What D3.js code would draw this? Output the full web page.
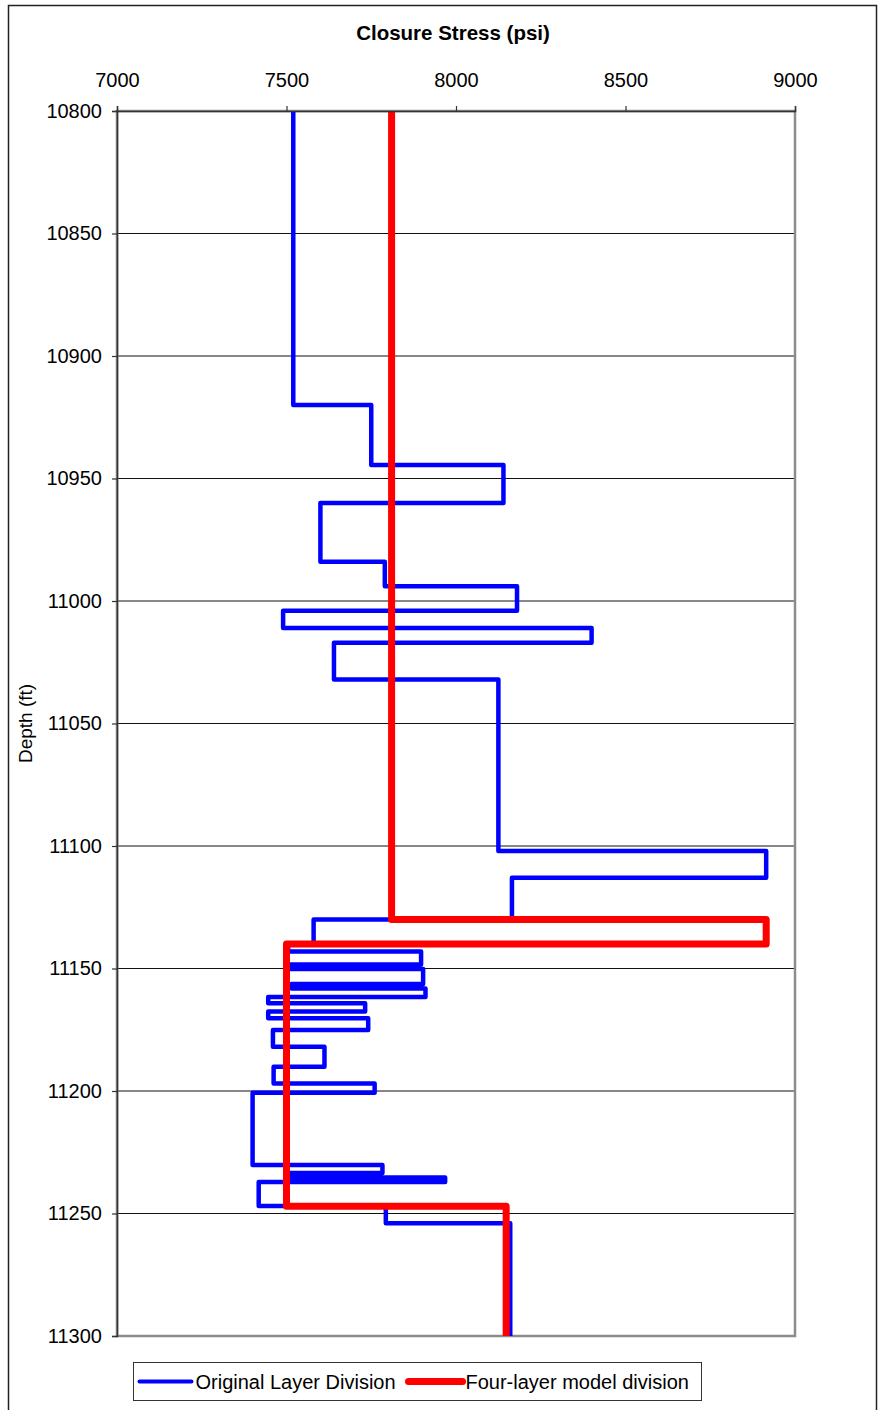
<!DOCTYPE html>
<html>
<head>
<meta charset="utf-8">
<script src="https://cdn.jsdelivr.net/npm/d3@7/dist/d3.min.js"></script>
<style>
  body { margin: 0; background: #fff; }
  svg { display: block; font-family: "Liberation Sans", Arial, sans-serif; }
</style>
</head>
<body>
<div id="chart"></div>
<script>
// layer boundaries (ft) and closure stress per layer (psi)
var blueDepths = [10800, 10920, 10944.5, 10960, 10984, 10994, 11004, 11011, 11017, 11032,
  11102, 11113, 11130, 11140, 11143.1, 11148.4, 11150.2, 11156.3, 11158.2, 11161.6,
  11164.2, 11167.6, 11170.3, 11175.1, 11181.9, 11190.1, 11196.9, 11200.7, 11230.2,
  11233.5, 11235.3, 11237.1, 11246.9, 11254, 11300]
var blueStress = [7520, 7750, 8140, 7600, 7790, 8180, 7490, 8400, 7640, 8125,
  8915, 8165, 7580, 7505, 7897, 7510, 7903, 7515, 7910, 7446,
  7732, 7446, 7741, 7460, 7612, 7462, 7760, 7400, 7783, 7505,
  7968, 7418, 7793, 8160]

var redDepths = [10800, 11130, 11140, 11247, 11300]
var redStress = [7810, 8915, 7500, 8148]

var xTicks = [7000, 7500, 8000, 8500, 9000]
var yTicks = [10800, 10850, 10900, 10950, 11000, 11050, 11100, 11150, 11200, 11250, 11300]

var seriesNames = ['Original Layer Division', 'Four-layer model division']

var width = 878, height = 1410
var plot = { left: 117, top: 111, right: 795, bottom: 1336 }

var x = d3.scaleLinear().domain([7000, 9000]).range([plot.left, plot.right])
var y = d3.scaleLinear().domain([10800, 11300]).range([plot.top, plot.bottom])

function stepPoints (depths, stress) {
  var pts = []
  stress.forEach(function (s, i) {
    pts.push([s, depths[i]])
    pts.push([s, depths[i + 1]])
  })
  return pts
}

var line = d3.line()
  .x(function (d) { return x(d[0]) })
  .y(function (d) { return y(d[1]) })

var svg = d3.select('#chart').append('svg')
  .attr('width', width)
  .attr('height', height)

// outer chart frame
svg.append('rect')
  .attr('x', 8.5).attr('y', 5.5)
  .attr('width', 868).attr('height', height + 10)
  .attr('fill', 'none')
  .attr('stroke', '#222')
  .attr('stroke-width', 1.5)

// gridlines
svg.append('g')
  .selectAll('line')
  .data(yTicks.slice(1, -1))
  .enter().append('line')
  .attr('x1', plot.left).attr('x2', plot.right)
  .attr('y1', function (d) { return y(d) }).attr('y2', function (d) { return y(d) })
  .attr('stroke', '#111')
  .attr('stroke-width', 1)

// plot border
svg.append('rect')
  .attr('x', plot.left).attr('y', plot.top)
  .attr('width', plot.right - plot.left).attr('height', plot.bottom - plot.top)
  .attr('fill', 'none')
  .attr('stroke', '#8c8c8c')
  .attr('stroke-width', 2.5)

svg.append('path')
  .datum(stepPoints(blueDepths, blueStress))
  .attr('d', line)
  .attr('fill', 'none')
  .attr('stroke', '#0000ff')
  .attr('stroke-width', 4.5)
  .attr('stroke-linejoin', 'round')

svg.append('path')
  .datum(stepPoints(redDepths, redStress))
  .attr('d', line)
  .attr('fill', 'none')
  .attr('stroke', '#ff0000')
  .attr('stroke-width', 7)
  .attr('stroke-linejoin', 'round')

var xAxis = svg.append('g')
  .attr('transform', 'translate(0,' + plot.top + ')')
  .call(d3.axisTop(x).tickValues(xTicks).tickSize(5).tickPadding(19).tickFormat(d3.format('d')))

var yAxis = svg.append('g')
  .attr('transform', 'translate(' + plot.left + ',0)')
  .call(d3.axisLeft(y).tickValues(yTicks).tickSize(5).tickPadding(10).tickFormat(d3.format('d')))

;[xAxis, yAxis].forEach(function (g) {
  g.select('.domain').attr('stroke', '#333').attr('stroke-width', 1.5)
  g.selectAll('.tick line').attr('stroke', '#333').attr('stroke-width', 1.2)
  g.selectAll('.tick text')
    .attr('fill', '#000')
    .style('font-size', '20px')
    .style('font-family', '"Liberation Sans", Arial, sans-serif')
})

svg.append('text')
  .attr('x', 453).attr('y', 40)
  .attr('text-anchor', 'middle')
  .style('font-size', '20.5px')
  .style('font-weight', 'bold')
  .text('Closure Stress (psi)')

svg.append('text')
  .attr('transform', 'translate(32,' + (plot.top + plot.bottom) / 2 + ') rotate(-90)')
  .attr('text-anchor', 'middle')
  .style('font-size', '19px')
  .text('Depth (ft)')

// legend
var legend = svg.append('g').attr('transform', 'translate(133.5,1362.5)')
legend.append('rect')
  .attr('width', 568).attr('height', 38)
  .attr('fill', '#fff')
  .attr('stroke', '#333')
  .attr('stroke-width', 1)

var items = [
  { name: seriesNames[0], color: '#0000ff', w: 4, x0: 6, x1: 58, tx: 62 },
  { name: seriesNames[1], color: '#ff0000', w: 7, x0: 275, x1: 329, tx: 332 }
]
var item = legend.selectAll('.item')
  .data(items)
  .enter().append('g')
  .attr('class', 'item')
item.append('line')
  .attr('x1', function (d) { return d.x0 }).attr('x2', function (d) { return d.x1 })
  .attr('y1', 19).attr('y2', 19)
  .attr('stroke', function (d) { return d.color })
  .attr('stroke-width', function (d) { return d.w })
  .attr('stroke-linecap', 'round')
item.append('text')
  .attr('x', function (d) { return d.tx })
  .attr('y', 26)
  .style('font-size', '20px')
  .text(function (d) { return d.name })
</script>
</body>
</html>
